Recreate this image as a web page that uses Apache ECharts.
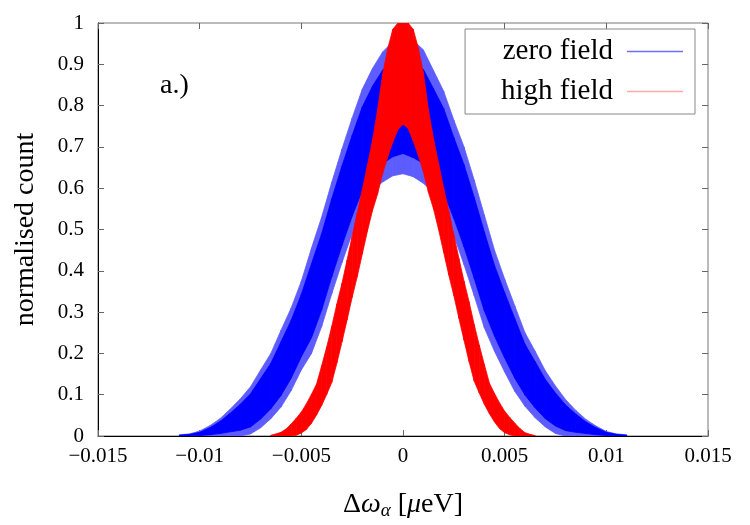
<!DOCTYPE html>
<html>
<head>
<meta charset="utf-8">
<script src="https://cdn.jsdelivr.net/npm/echarts@6/dist/echarts.min.js"></script>
<style>
  html, body { margin: 0; padding: 0; background: #fff; }
  #chart { width: 750px; height: 525px; }
</style>
</head>
<body>
<div id="chart"></div>
<script>
// sample positions along the detuning axis
const blueX = [
  -0.011, -0.0105, -0.01, -0.0095, -0.009, -0.0085, -0.008, -0.0075, -0.007,
  -0.0065, -0.006, -0.0055, -0.005, -0.0045, -0.004, -0.0035, -0.003, -0.0025,
  -0.002, -0.0015, -0.001, -0.0005, 0, 0.0005, 0.001, 0.0015, 0.002, 0.0025,
  0.003, 0.0035, 0.004, 0.0045, 0.005, 0.0055, 0.006, 0.0065, 0.007, 0.0075,
  0.008, 0.0085, 0.009, 0.0095, 0.01, 0.0105, 0.011
];
// zero field: outer reach of the spikes
const blueLo = [
  0, 0, 0, 0, 0, 0, 0, 0.005, 0.020,
  0.042, 0.070, 0.110, 0.160, 0.200, 0.265, 0.345, 0.420, 0.490,
  0.550, 0.595, 0.615, 0.630, 0.635, 0.628, 0.612, 0.590, 0.545, 0.485,
  0.415, 0.340, 0.262, 0.205, 0.155, 0.108, 0.072, 0.044, 0.022, 0.006,
  0, 0, 0, 0, 0, 0, 0
];
const blueHi = [
  0.003, 0.005, 0.012, 0.025, 0.042, 0.065, 0.090, 0.119, 0.160,
  0.200, 0.256, 0.310, 0.375, 0.455, 0.530, 0.615, 0.695, 0.770,
  0.840, 0.890, 0.930, 0.955, 0.968, 0.958, 0.935, 0.885, 0.835, 0.765,
  0.700, 0.620, 0.535, 0.450, 0.380, 0.315, 0.250, 0.205, 0.158, 0.121,
  0.088, 0.062, 0.040, 0.024, 0.011, 0.005, 0.003
];
// zero field: dense core of the band
const blueCoreLo = [
  0, 0, 0.001, 0.003, 0.006, 0.010, 0.014, 0.022, 0.041,
  0.066, 0.098, 0.140, 0.192, 0.238, 0.305, 0.386, 0.461, 0.532,
  0.594, 0.638, 0.660, 0.676, 0.684, 0.674, 0.660, 0.634, 0.589, 0.527,
  0.458, 0.382, 0.303, 0.242, 0.189, 0.140, 0.099, 0.068, 0.042, 0.024,
  0.013, 0.009, 0.006, 0.003, 0.001, 0, 0
];
const blueCoreHi = [
  0.002, 0.004, 0.009, 0.020, 0.035, 0.055, 0.077, 0.102, 0.139,
  0.176, 0.228, 0.280, 0.343, 0.417, 0.490, 0.575, 0.654, 0.728,
  0.797, 0.847, 0.886, 0.911, 0.922, 0.912, 0.888, 0.841, 0.793, 0.723,
  0.657, 0.578, 0.494, 0.413, 0.347, 0.284, 0.222, 0.180, 0.137, 0.104,
  0.075, 0.053, 0.034, 0.020, 0.009, 0.004, 0.002
];

const redX = [
  -0.0065, -0.00625, -0.006, -0.00575, -0.0055, -0.00525, -0.005, -0.00475, -0.0045,
  -0.00425, -0.004, -0.00375, -0.0035, -0.00325, -0.003, -0.00275, -0.0025, -0.00225,
  -0.002, -0.00175, -0.0015, -0.00125, -0.001, -0.00075, -0.0005, -0.00025, 0,
  0.00025, 0.0005, 0.00075, 0.001, 0.00125, 0.0015, 0.00175, 0.002, 0.00225,
  0.0025, 0.00275, 0.003, 0.00325, 0.0035, 0.00375, 0.004, 0.00425, 0.0045,
  0.00475, 0.005, 0.00525, 0.0055, 0.00575, 0.006, 0.00625, 0.0065
];
// high field: lower and upper edge of the band
const redLo = [
  0, 0, 0, 0, 0, 0.002, 0.007, 0.016, 0.031,
  0.051, 0.074, 0.101, 0.130, 0.177, 0.228, 0.281, 0.336, 0.386,
  0.441, 0.496, 0.546, 0.586, 0.636, 0.676, 0.712, 0.742, 0.755,
  0.745, 0.715, 0.680, 0.640, 0.590, 0.550, 0.500, 0.445, 0.390,
  0.340, 0.285, 0.232, 0.180, 0.133, 0.104, 0.077, 0.054, 0.034,
  0.018, 0.008, 0.003, 0, 0, 0, 0, 0
];
const redHi = [
  0.002, 0.005, 0.009, 0.017, 0.029, 0.043, 0.058, 0.078, 0.101,
  0.126, 0.170, 0.216, 0.266, 0.320, 0.370, 0.426, 0.484, 0.540,
  0.596, 0.655, 0.716, 0.790, 0.876, 0.938, 0.985, 1.0, 1.0,
  1.0, 0.985, 0.940, 0.880, 0.790, 0.720, 0.660, 0.600, 0.545,
  0.487, 0.430, 0.375, 0.325, 0.270, 0.220, 0.173, 0.128, 0.103,
  0.080, 0.060, 0.045, 0.031, 0.018, 0.008, 0.004, 0.001
];

const xTickLabels = ["\u22120.015", "\u22120.01", "\u22120.005", "0", "0.005", "0.01", "0.015"];
const yTickLabels = ["0", "0.1", "0.2", "0.3", "0.4", "0.5", "0.6", "0.7", "0.8", "0.9", "1"];

const FONT = "'Liberation Serif', 'DejaVu Serif', serif";

// one row per strip between neighbouring samples: x0, lo0, hi0, x1, lo1, hi1
const stripRows = (xs, lo, hi) =>
  xs.slice(0, -1).map((x, i) => [x, lo[i], hi[i], xs[i + 1], lo[i + 1], hi[i + 1]]);

const bandSeries = (name, xs, lo, hi, color, z) => ({
  name: name,
  type: "custom",
  data: stripRows(xs, lo, hi),
  encode: { x: [0, 3], y: [1, 2, 4, 5] },
  clip: true,
  silent: true,
  z: z,
  itemStyle: { color: color },
  renderItem: (params, api) => {
    const points = [
      api.coord([api.value(0), api.value(1)]),
      api.coord([api.value(3), api.value(4)]),
      api.coord([api.value(3), api.value(5)]),
      api.coord([api.value(0), api.value(2)]),
    ];
    return {
      type: "polygon",
      shape: { points: points },
      style: { fill: color, stroke: color, lineWidth: 0.8 },
    };
  },
});

const chart = echarts.init(document.getElementById("chart"), null, { renderer: "canvas" });

const tickStyle = () => ({ show: true, inside: true, length: 6, lineStyle: { color: "#666", width: 1 } });

chart.setOption({
  animation: false,
  backgroundColor: "#fff",
  grid: {
    left: 98,
    right: 42,
    top: 23,
    bottom: 74,
    show: true,
    borderColor: "#777",
    borderWidth: 1,
  },
  legend: {
    data: [
      { name: "zero field", icon: "rect", itemStyle: { color: "#6f6fff" } },
      { name: "high field", icon: "rect", itemStyle: { color: "#ffaaaa" } },
    ],
    orient: "vertical",
    align: "right",
    right: 55,
    top: 29,
    itemWidth: 56,
    itemHeight: 1.5,
    itemGap: 11,
    padding: [8, 12, 8, 36],
    borderColor: "#888",
    borderWidth: 1,
    backgroundColor: "#fff",
    textStyle: { fontFamily: FONT, fontSize: 29, color: "#000", padding: [0, 9, 0, 0] },
  },
  graphic: [
    {
      type: "text",
      left: 160,
      top: 72,
      style: { text: "a.)", fontFamily: FONT, fontSize: 28, fill: "#000" },
    },
  ],
  xAxis: [
    {
      type: "value",
      min: -0.015,
      max: 0.015,
      interval: 0.005,
      axisLine: { show: true, onZero: false, lineStyle: { color: "#000" } },
      axisTick: tickStyle(),
      splitLine: { show: false },
      axisLabel: {
        margin: 10,
        fontFamily: FONT,
        fontSize: 21,
        color: "#000",
        formatter: (v, i) => xTickLabels[i],
      },
      name: "{n|\u0394}{i|\u03c9}{s|\u03b1}{n| [}{i|\u03bc}{n|eV]}",
      nameLocation: "middle",
      nameGap: 53,
      nameTextStyle: {
        rich: {
          n: { fontFamily: FONT, fontSize: 28, color: "#000" },
          i: { fontFamily: FONT, fontSize: 28, fontStyle: "italic", color: "#000" },
          s: { fontFamily: FONT, fontSize: 19, fontStyle: "italic", color: "#000", padding: [12, 0, 0, 0] },
        },
      },
    },
    {
      type: "value",
      position: "top",
      min: -0.015,
      max: 0.015,
      interval: 0.005,
      axisLine: { show: false, onZero: false },
      axisTick: tickStyle(),
      axisLabel: { show: false },
      splitLine: { show: false },
    },
  ],
  yAxis: [
    {
      type: "value",
      min: 0,
      max: 1,
      interval: 0.1,
      axisLine: { show: true, onZero: false, lineStyle: { color: "#000" } },
      axisTick: tickStyle(),
      splitLine: { show: false },
      axisLabel: {
        margin: 14,
        fontFamily: FONT,
        fontSize: 21,
        color: "#000",
        formatter: (v, i) => yTickLabels[i],
      },
      name: "normalised count",
      nameLocation: "middle",
      nameGap: 58,
      nameRotate: 90,
      nameTextStyle: { fontFamily: FONT, fontSize: 28, color: "#000" },
    },
    {
      type: "value",
      position: "right",
      min: 0,
      max: 1,
      interval: 0.1,
      axisLine: { show: false, onZero: false },
      axisTick: tickStyle(),
      axisLabel: { show: false },
      splitLine: { show: false },
    },
  ],
  series: [
    bandSeries("zero field spikes", blueX, blueLo, blueHi, "#5c5cff", 2),
    bandSeries("zero field", blueX, blueCoreLo, blueCoreHi, "#0000ff", 3),
    bandSeries("high field", redX, redLo, redHi, "#ff0000", 4),
  ],
});
</script>
</body>
</html>
